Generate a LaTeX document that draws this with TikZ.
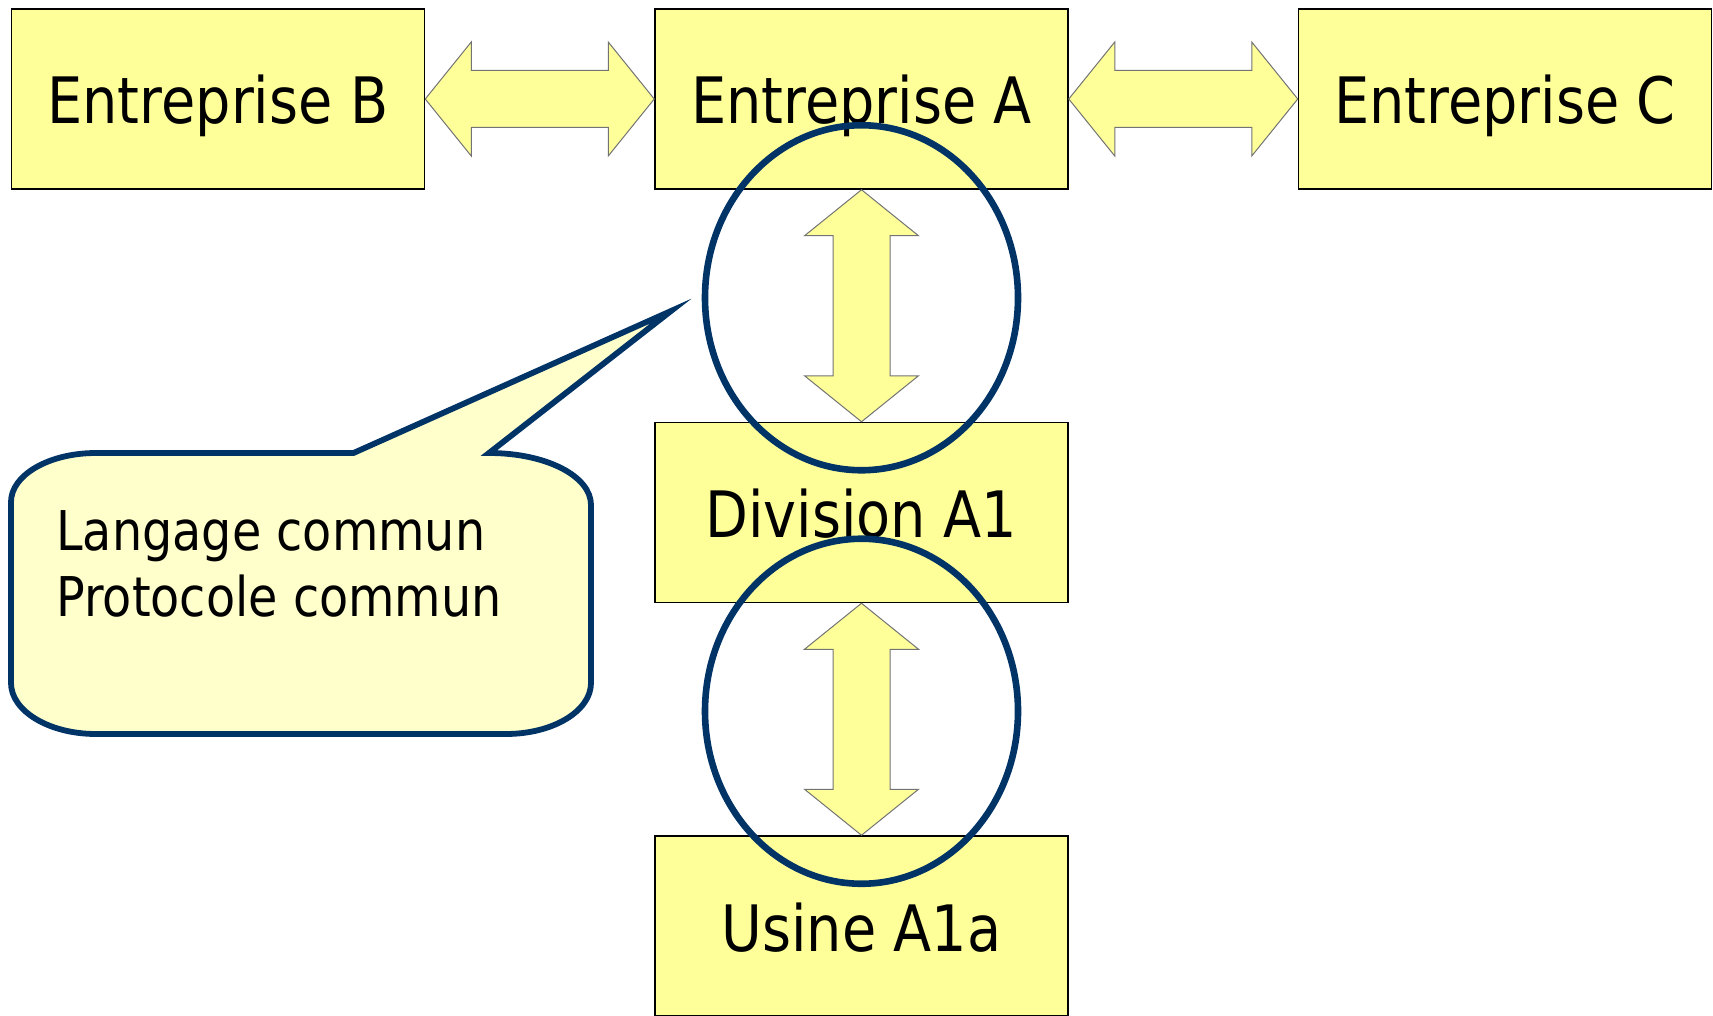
\documentclass[tikz,border=0pt]{standalone}
\usepackage{fontspec}
\setmainfont[FakeStretch=0.87]{DejaVu Sans}
\usetikzlibrary{positioning,shapes.geometric,calc}

\definecolor{boxyellow}{RGB}{255,255,153}
\definecolor{noteyellow}{RGB}{255,255,204}
\definecolor{ringblue}{RGB}{0,51,102}

\begin{document}
\begin{tikzpicture}[
		x=0.5pt, y=-0.5pt,
		unitbox/.style={rectangle, draw=black, line width=0.75pt, fill=boxyellow, minimum width=206.5pt, minimum height=90pt, inner sep=0pt, text height=25pt, text depth=0pt, font=\fontsize{32}{38}\selectfont},
		fatarrow/.style={draw=black!55, line width=0.5pt, fill=boxyellow, line join=miter},
		ring/.style={ellipse, draw=ringblue, line width=3.3pt, minimum width=156.5pt, minimum height=172.5pt, inner sep=0pt},
		bubble/.style={draw=ringblue, line width=2.9pt, fill=noteyellow, line join=miter},
		notetext/.style={align=left, inner sep=0pt, font=\fontsize{27.4}{33.35}\selectfont},
		]
		\useasboundingbox (0,0) rectangle (1713,1016);
		
		%Nodes
		\node[unitbox] (entA) at (861.5,99) {Entreprise A};
		\node[unitbox] (entB) [left=114.5pt of entA] {Entreprise B};
		\node[unitbox] (entC) [right=114.5pt of entA] {Entreprise C};
		\node[unitbox] (divA) [below=116pt of entA] {Division A1};
		\node[unitbox] (usine) [below=116pt of divA] {Usine A1a};
		
		%Arrows
		\draw[fatarrow] (entB.east) -- ++(46,-57) -- ++(0,28.5) -- ($(entA.west)+(-46,-28.5)$) -- ++(0,-28.5) -- (entA.west) -- ++(-46,57) -- ++(0,-28.5) -- ($(entB.east)+(46,28.5)$) -- ++(0,28.5) -- cycle;
		\draw[fatarrow] (entA.east) -- ++(46,-57) -- ++(0,28.5) -- ($(entC.west)+(-46,-28.5)$) -- ++(0,-28.5) -- (entC.west) -- ++(-46,57) -- ++(0,-28.5) -- ($(entA.east)+(46,28.5)$) -- ++(0,28.5) -- cycle;
		\draw[fatarrow] (entA.south) -- ++(-57,46) -- ++(28.5,0) -- ($(divA.north)+(-28.5,-46)$) -- ++(-28.5,0) -- (divA.north) -- ++(57,-46) -- ++(-28.5,0) -- ($(entA.south)+(28.5,46)$) -- ++(28.5,0) -- cycle;
		\draw[fatarrow] (divA.south) -- ++(-57,46) -- ++(28.5,0) -- ($(usine.north)+(-28.5,-46)$) -- ++(-28.5,0) -- (usine.north) -- ++(57,-46) -- ++(-28.5,0) -- ($(divA.south)+(28.5,46)$) -- ++(28.5,0) -- cycle;
		
		%Rings
		\node[ring] (ringtop) at ($(entA.south)!0.5!(divA.north)+(0,-8)$) {};
		\node[ring] (ringbot) at ($(divA.south)!0.5!(usine.north)+(0,-8)$) {};
		
		%Callout
		\draw[bubble] (353.5,453) -- (671,311) -- (489,453)
			.. controls (546,453) and (591,476) .. (591,505)
			-- (591,683)
			.. controls (591,711) and (553,734) .. (506,734)
			-- (96,734)
			.. controls (49,734) and (11,711) .. (11,683)
			-- (11,502)
			.. controls (11,475) and (49,453) .. (96,453)
			-- cycle;
		\node[notetext, anchor=base west] (note) at (56,616.7) {Langage commun\\Protocole commun};
		
\end{tikzpicture}
\end{document}
